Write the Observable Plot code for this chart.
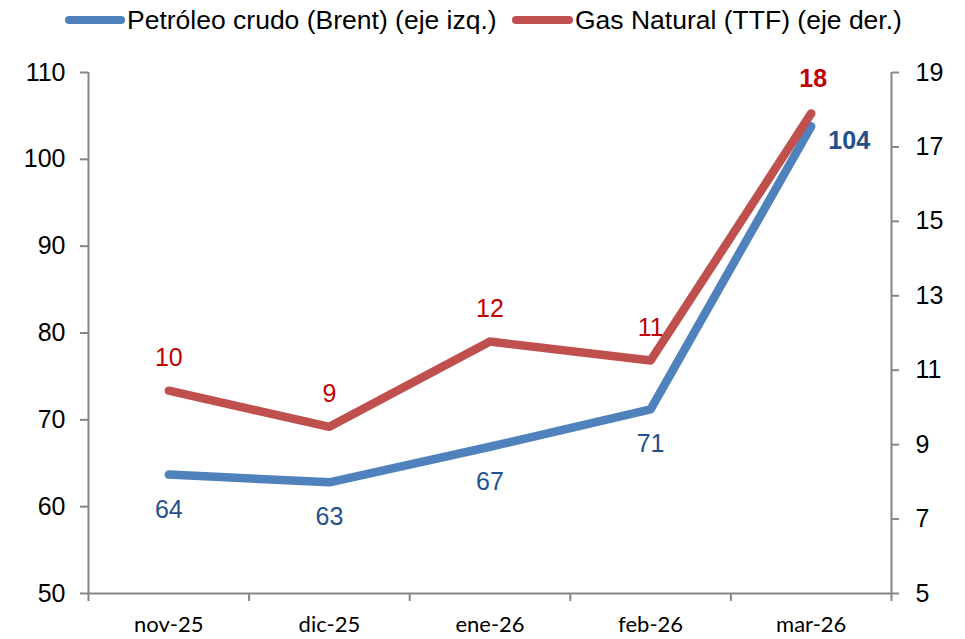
<!DOCTYPE html>
<html>
<head>
<meta charset="utf-8">
<script src="https://cdn.jsdelivr.net/npm/d3@7"></script>
<script src="https://cdn.jsdelivr.net/npm/@observablehq/plot@0.6"></script>
<style>
  html, body { margin: 0; padding: 0; background: #fff; }
  #wrap { width: 965px; height: 639px; position: relative; overflow: hidden; }
  #legend { position: relative; width: 965px; height: 40px; font-family: "Liberation Sans", Arial, sans-serif; font-size: 26.5px; color: #000; }
  .sw { position: absolute; top: 16px; height: 8px; border-radius: 4px; }
  .lt { position: absolute; top: 4px; line-height: 32px; white-space: nowrap; }
  svg { display: block; }
</style>
</head>
<body>
<div id="wrap">
  <div id="legend"></div>
  <div id="chart"></div>
</div>
<script>
// ---- Data ----
const categories = ["nov-25", "dic-25", "ene-26", "feb-26", "mar-26"];
const brent = [63.7, 62.8, 66.9, 71.2, 103.8];      // eje izq.
const ttf = [10.45, 9.48, 11.77, 11.26, 17.9];       // eje der.
const leftTicks = [50, 60, 70, 80, 90, 100, 110];
const rightTicks = [5, 7, 9, 11, 13, 15, 17, 19];
const seriesNames = ["Petróleo crudo (Brent) (eje izq.)", "Gas Natural (TTF) (eje der.)"];

const colBlue = "#4F81BD", colRed = "#C0504D";
const txtBlue = "#24508C", txtRed = "#C00000";
const axisGray = "#868686";

// secondary axis mapping (5..19 -> 50..110)
const toLeft = v => 50 + (v - 5) * 60 / 14;
const fromLeft = y => (y - 50) * 14 / 60 + 5;

const rows = categories.map((c, i) => ({i, cat: c, brent: brent[i], ttf: ttf[i], ttfL: toLeft(ttf[i])}));
const last = rows.length - 1;

// ---- Legend ----
const legend = document.getElementById("legend");
legend.innerHTML = `
  <div class="sw" style="left:65px;width:60px;background:${colBlue}"></div>
  <div class="lt" style="left:127px">${seriesNames[0]}</div>
  <div class="sw" style="left:512px;width:61px;background:${colRed}"></div>
  <div class="lt" style="left:575px">${seriesNames[1]}</div>`;

// ---- Chart ----
const chart = Plot.plot({
  width: 965,
  height: 599,
  marginTop: 32,
  marginBottom: 46,
  marginLeft: 88,
  marginRight: 74,
  style: {fontFamily: "'Liberation Sans', Arial, sans-serif", fontSize: "24px", background: "#fff", overflow: "visible"},
  x: {type: "linear", domain: [-0.5, categories.length - 0.5]},
  y: {domain: [50, 110]},
  marks: [
    // axis frames
    Plot.ruleX([-0.5, categories.length - 0.5], {y1: 50, y2: 110, stroke: axisGray, strokeWidth: 2}),
    Plot.ruleY([50], {stroke: axisGray, strokeWidth: 2}),
    // left axis
    Plot.axisY({anchor: "left", ticks: leftTicks, tickSize: 8, tickPadding: 15, stroke: axisGray, strokeWidth: 2, fill: "#000", fontSize: 25, label: null}),
    // right axis
    Plot.axisY({anchor: "right", ticks: rightTicks.map(toLeft), tickFormat: d => String(Math.round(fromLeft(d))), tickSize: 7, tickPadding: 17, stroke: axisGray, strokeWidth: 2, fill: "#000", fontSize: 25, label: null}),
    // bottom ticks at category boundaries
    Plot.axisX({anchor: "bottom", ticks: d3.range(-0.5, categories.length, 1), tickFormat: () => "", tickSize: 8, stroke: axisGray, strokeWidth: 2, label: null}),
    // category labels
    Plot.axisX({anchor: "bottom", ticks: d3.range(categories.length), tickFormat: i => categories[i], tickSize: 0, tickPadding: 23, fill: "#000", fontSize: 22, fontFamily: "Lato, 'Open Sans', sans-serif", label: null}),
    // lines
    Plot.line(rows, {x: "i", y: "brent", stroke: colBlue, strokeWidth: 8.5, strokeLinecap: "round", strokeLinejoin: "round"}),
    Plot.line(rows, {x: "i", y: "ttfL", stroke: colRed, strokeWidth: 8.5, strokeLinecap: "round", strokeLinejoin: "round"}),
    // labels
    Plot.text(rows, {filter: d => d.i < last, x: "i", y: "brent", text: d => String(Math.round(d.brent)), dy: 35, fill: txtBlue, fontSize: 25}),
    Plot.text(rows, {filter: d => d.i === last, x: "i", y: "brent", text: d => String(Math.round(d.brent)), dx: 38, dy: 15, fill: txtBlue, fontSize: 25, fontWeight: "bold"}),
    Plot.text(rows, {filter: d => d.i < last, x: "i", y: "ttfL", text: d => String(Math.round(d.ttf)), dy: -33, fill: txtRed, fontSize: 25}),
    Plot.text(rows, {filter: d => d.i === last, x: "i", y: "ttfL", text: d => String(Math.round(d.ttf)), dx: 2, dy: -34, fill: txtRed, fontSize: 25, fontWeight: "bold"})
  ]
});
document.getElementById("chart").appendChild(chart);
</script>
</body>
</html>
